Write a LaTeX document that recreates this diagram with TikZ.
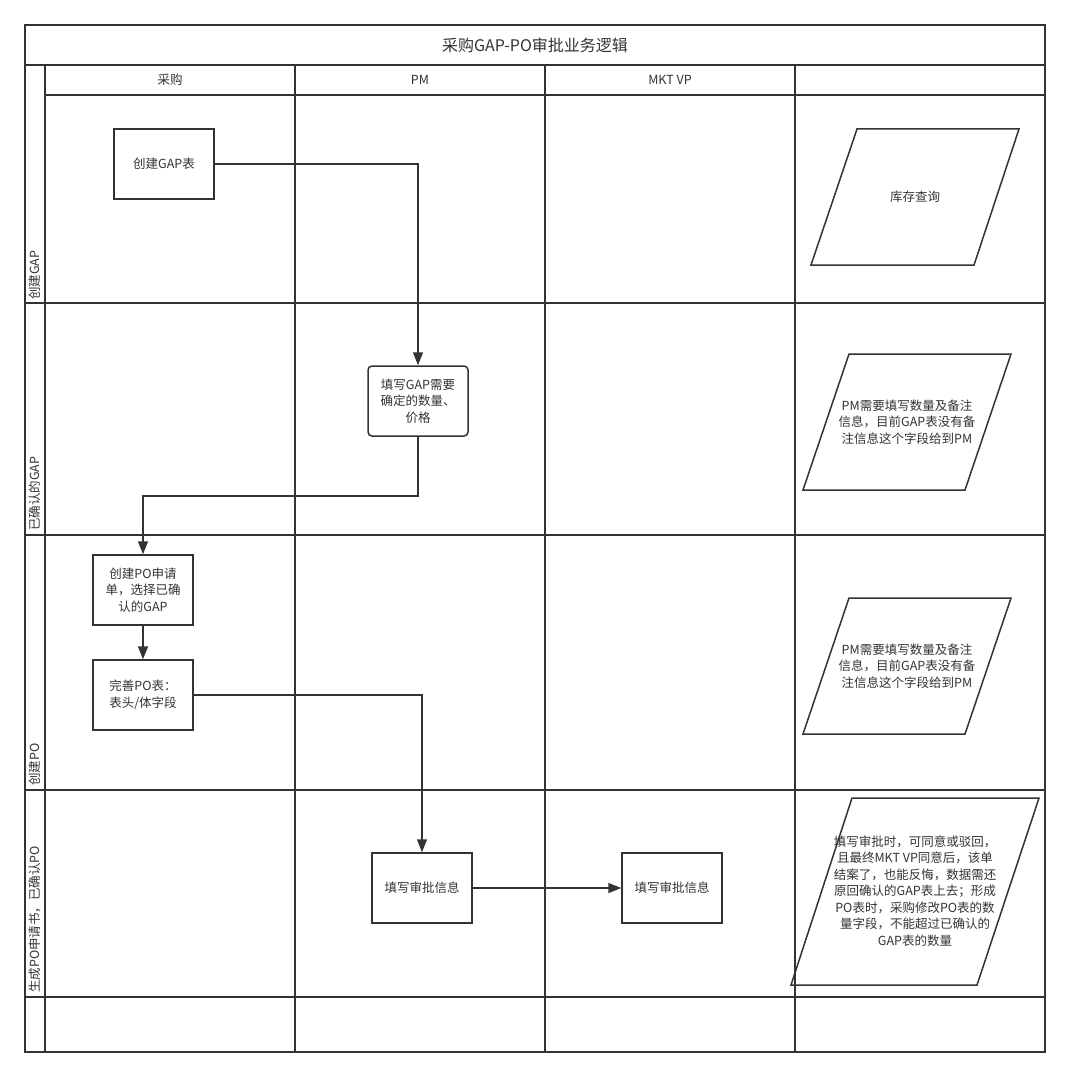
\documentclass[tikz,border=0pt]{standalone}
\usepackage{fontspec}
\setmainfont{Noto Sans CJK SC}
\usetikzlibrary{arrows.meta}
\definecolor{linegray}{HTML}{333333}
\begin{document}
\begin{tikzpicture}[
    x=1pt, y=-1pt,
    every node/.style={text=linegray, font=\fontsize{12.5}{16.5}\selectfont, align=center},
    frame/.style={draw=linegray, line width=1.6pt},
    proc/.style={draw=linegray, line width=1.5pt, minimum width=100pt, minimum height=70pt, inner sep=2pt},
    procr/.style={proc, rounded corners=4pt},
    note/.style={draw=linegray, line width=1.5pt, line join=miter},
    lanename/.style={rotate=90, anchor=west, inner sep=0pt},
    flow/.style={draw=linegray, line width=1.5pt, -{Triangle[length=13pt,width=10pt]}},
  ]
  \useasboundingbox (0,0) rectangle (1070,1078);

  % pool, lanes and columns
  \draw[frame] (25,25) rectangle (1045,1052);
  \draw[frame] (25,65) -- (1045,65);
  \draw[frame] (45,95) -- (1045,95);
  \foreach \y in {303,535,790,997}
    \draw[frame] (25,\y) -- (1045,\y);
  \foreach \x in {45,295,545,795}
    \draw[frame] (\x,65) -- (\x,1052);

  \node[font=\fontsize{16}{20}\selectfont] (title) at (535,45) {采购GAP-PO审批业务逻辑};
  \node (colbuy) at (170,80) {采购};
  \node (colpm) at (420,80) {PM};
  \node (colvp) at (670,80) {MKT VP};

  \node[lanename] (lanegap) at (35,300) {创建GAP};
  \node[lanename] (laneok) at (35,531) {已确认的GAP};
  \node[lanename] (lanepo) at (35,786) {创建PO};
  \node[lanename] (laneend) at (35,993) {生成PO申请书，已确认PO};

  % steps
  \node[proc] (gap) at (164,164) {创建GAP表};
  \node[procr] (fill) at (418,401) {填写GAP需要\\确定的数量、\\价格};
  \node[proc] (po) at (143,590) {创建PO申请\\单，选择已确\\认的GAP};
  \node[proc] (poform) at (143,695) {完善PO表：\\表头/体字段};
  \node[proc] (pmok) at (422,888) {填写审批信息};
  \node[proc] (vpok) at (672,888) {填写审批信息};

  % notes
  \draw[note] (857,129) -- (1019,129) -- (974,265) -- (811,265) -- cycle;
  \node (stock) at (915,197) {库存查询};
  \draw[note] (849,354) -- (1011,354) -- (965,490) -- (803,490) -- cycle;
  \node (note1) at (907,422) {PM需要填写数量及备注\\信息，目前GAP表没有备\\注信息这个字段给到PM};
  \draw[note] (849,598) -- (1011,598) -- (965,734) -- (803,734) -- cycle;
  \node (note2) at (907,666) {PM需要填写数量及备注\\信息，目前GAP表没有备\\注信息这个字段给到PM};
  \draw[note] (852,798) -- (1039,798) -- (977,985) -- (791,985) -- cycle;
  \node (note3) at (915,891)
    {填写审批时，可同意或驳回，\\且最终MKT VP同意后，该单\\结案了，也能反悔，数据需还\\原回确认的GAP表上去；形成\\PO表时，采购修改PO表的数\\量字段，不能超过已确认的\\GAP表的数量};

  % flow
  \draw[flow] (gap.east) -| (fill.north);
  \draw[flow] (fill.south) -- ++(0,59) -| (po.north);
  \draw[flow] (po) -- (poform);
  \draw[flow] (poform.east) -| (pmok.north);
  \draw[flow] (pmok) -- (vpok);
\end{tikzpicture}
\end{document}
